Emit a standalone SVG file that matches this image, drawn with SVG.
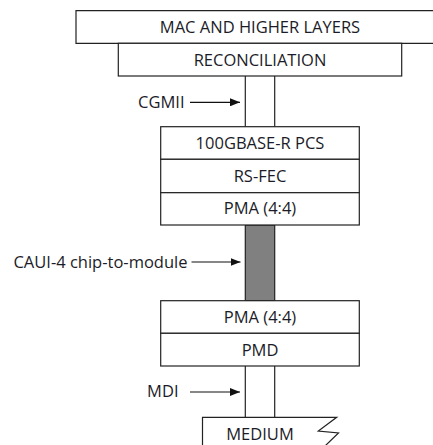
<svg xmlns="http://www.w3.org/2000/svg" width="433" height="445" viewBox="0 0 433 445">
<defs>
<marker id="ah" markerWidth="10" markerHeight="8" refX="10" refY="4" orient="auto" markerUnits="userSpaceOnUse">
<path d="M0,0 L10,4 L0,8 Z" fill="#111"/>
</marker>
<style>
.box{fill:#fff;stroke:#222;stroke-width:1.2}
.ln{fill:none;stroke:#222;stroke-width:1.2}
.t{font-family:"Open Sans","Liberation Sans",sans-serif;font-size:16.5px;fill:#1c1c28;text-anchor:middle}
.l{font-family:"Open Sans","Liberation Sans",sans-serif;font-size:16.5px;fill:#1c1c28;text-anchor:end}
.arr{fill:none;stroke:#111;stroke-width:1.2;marker-end:url(#ah)}
</style>
</defs>
<rect width="433" height="445" fill="#fff"/>
<g id="connectors">
<line class="ln" x1="245.3" y1="76" x2="245.3" y2="126.7"/>
<line class="ln" x1="274.7" y1="76" x2="274.7" y2="126.7"/>
<rect x="245.3" y="225" width="29.4" height="75.7" fill="#808080" stroke="#222" stroke-width="1.2"/>
<line class="ln" x1="245.3" y1="366" x2="245.3" y2="417"/>
<line class="ln" x1="274.7" y1="366" x2="274.7" y2="417"/>
<line class="arr" x1="190" y1="102.3" x2="240" y2="102.3"/>
<line class="arr" x1="191.5" y1="262" x2="240.5" y2="262"/>
<line class="arr" x1="190" y1="392" x2="240" y2="392"/>
</g>
<g id="mac">
<path class="ln" d="M440,10.7 H76 V43.3 H440"/>
<text class="t" x="260" y="33.3">MAC AND HIGHER LAYERS</text>
</g>
<g id="reconciliation">
<rect class="box" x="118.3" y="43.3" width="283.4" height="32.7"/>
<text class="t" x="260" y="66">RECONCILIATION</text>
</g>
<g id="cgmii">
<text class="l" x="184.5" y="107.5">CGMII</text>
</g>
<g id="pcs">
<rect class="box" x="160.7" y="126.7" width="198.6" height="32.6"/>
<text class="t" x="260" y="149">100GBASE-R PCS</text>
</g>
<g id="rsfec">
<rect class="box" x="160.7" y="159.3" width="198.6" height="33.4"/>
<text class="t" x="260" y="181.7">RS-FEC</text>
</g>
<g id="pma1">
<rect class="box" x="160.7" y="192.7" width="198.6" height="32.3"/>
<text class="t" x="260" y="213.8">PMA (4:4)</text>
</g>
<g id="caui">
<text class="l" x="187.5" y="267.7">CAUI-4 chip-to-module</text>
</g>
<g id="pma2">
<rect class="box" x="160.7" y="300.7" width="198.6" height="32.6"/>
<text class="t" x="260" y="323.3">PMA (4:4)</text>
</g>
<g id="pmd">
<rect class="box" x="160.7" y="333.3" width="198.6" height="32.7"/>
<text class="t" x="260" y="356">PMD</text>
</g>
<g id="mdi">
<text class="l" x="178.5" y="397">MDI</text>
</g>
<g id="medium">
<path class="ln" d="M202.5,446 V417.3 H336.7 L318.3,431 L338.5,433 L325,446"/>
<text class="t" x="260" y="439.5">MEDIUM</text>
</g>
</svg>
